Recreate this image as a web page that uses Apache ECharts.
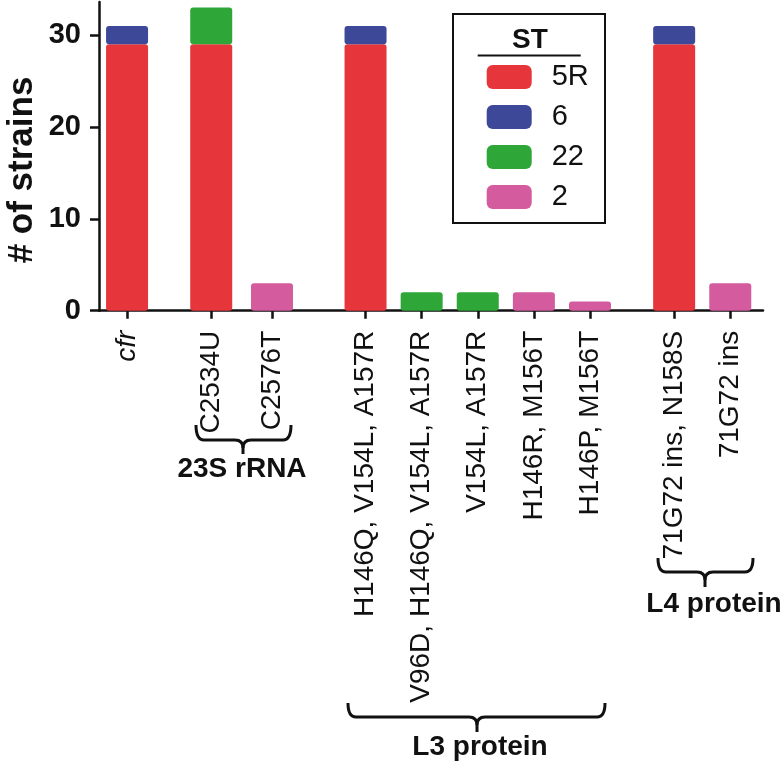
<!DOCTYPE html>
<html>
<head>
<meta charset="utf-8">
<script src="https://cdn.jsdelivr.net/npm/echarts@6/dist/echarts.min.js"></script>
<style>html,body{margin:0;padding:0;background:#fff}#c{width:780px;height:766px}</style>
</head>
<body>
<div id="c"></div>
<script>
// ---- data ----
const categories = ['cfr', 'C2534U', 'C2576T', 'H146Q, V154L, A157R', 'V96D, H146Q, V154L, A157R',
  'V154L, A157R', 'H146R, M156T', 'H146P, M156T', '71G72 ins, N158S', '71G72 ins'];
const st5R = [29, 29, 0, 29, 0, 0, 0, 0, 29, 0];
const st6  = [2, 0, 0, 2, 0, 0, 0, 0, 2, 0];
const st22 = [0, 4, 0, 0, 2, 2, 0, 0, 0, 0];
const st2  = [0, 0, 3, 0, 0, 0, 2, 1, 0, 3];
const yTicks = [0, 10, 20, 30];
const seriesNames = ['5R', '6', '22', '2'];

// ---- layout (category slot positions on a fine category axis, groups separated by gaps) ----
const slotCount = 143;
const slotOfCategory = [6, 24, 37, 57, 69, 81, 93, 105, 123, 135];

const FONT = 'Liberation Sans, Arial, Helvetica, sans-serif';
const colors = ['#E6363B', '#3D4898', '#2EA638', '#D45B9D'];

const xData = [];
for (let i = 0; i < slotCount; i++) xData.push('gap' + i);
slotOfCategory.forEach((s, k) => { xData[s] = categories[k]; });

function buildSeriesData(values) {
  const arr = new Array(slotCount).fill(null);
  values.forEach((v, k) => { arr[slotOfCategory[k]] = v === 0 ? null : v; });
  return arr;
}

const valueSets = [st5R, st6, st22, st2];
const series = seriesNames.map((n, k) => ({
  name: n,
  type: 'bar',
  stack: 'st',
  barWidth: 42,
  data: buildSeriesData(valueSets[k]),
  itemStyle: { color: colors[k], borderRadius: 3 },
  emphasis: { disabled: true }
}));

const strokeStyle = { fill: null, stroke: '#111', lineWidth: 3 };
function brace(x1, x2, xm, yTop, yH, yTip) {
  const r = 8;
  return [
    { type: 'bezierCurve', shape: { x1: x1, y1: yTop, x2: x1 + r, y2: yH, cpx1: x1, cpy1: yH }, style: strokeStyle },
    { type: 'line', shape: { x1: x1 + r, y1: yH, x2: xm - r, y2: yH }, style: strokeStyle },
    { type: 'bezierCurve', shape: { x1: xm - r, y1: yH, x2: xm, y2: yH + r, cpx1: xm, cpy1: yH }, style: strokeStyle },
    { type: 'line', shape: { x1: xm, y1: yH + r, x2: xm, y2: yTip }, style: strokeStyle },
    { type: 'bezierCurve', shape: { x1: xm + r, y1: yH, x2: xm, y2: yH + r, cpx1: xm, cpy1: yH }, style: strokeStyle },
    { type: 'line', shape: { x1: xm + r, y1: yH, x2: x2 - r, y2: yH }, style: strokeStyle },
    { type: 'bezierCurve', shape: { x1: x2, y1: yTop, x2: x2 - r, y2: yH, cpx1: x2, cpy1: yH }, style: strokeStyle }
  ];
}
function label(text, x, y, size, weight, rot) {
  return { type: 'text', x: x, y: y, rotation: rot || 0,
    style: { text: text, fill: '#111', font: weight + ' ' + size + 'px ' + FONT,
      textAlign: 'center', textVerticalAlign: 'middle' } };
}

const chart = echarts.init(document.getElementById('c'), null, { renderer: 'canvas' });
chart.setOption({
  animation: false,
  backgroundColor: '#fff',
  grid: { left: 99, right: 17, top: 2, bottom: 455.3, containLabel: false },
  xAxis: {
    type: 'category',
    data: xData,
    boundaryGap: false,
    axisLine: { lineStyle: { color: '#111', width: 2.5 } },
    axisTick: { length: 8, lineStyle: { color: '#111', width: 2.5 },
      interval: function (idx, v) { return !String(v).startsWith('gap'); } },
    axisLabel: {
      interval: 0, rotate: 90, margin: 20, color: '#111',
      fontFamily: FONT, fontSize: 28,
      formatter: function (v) {
        if (String(v).startsWith('gap')) return '';
        if (v === 'cfr') return '{i|cfr}';
        return v;
      },
      rich: { i: { fontStyle: 'italic', fontFamily: FONT, fontSize: 28, color: '#111' } }
    },
    splitLine: { show: false }
  },
  yAxis: {
    type: 'value',
    min: 0, max: 33.6, interval: 10,
    axisLine: { show: true, lineStyle: { color: '#111', width: 2.5 } },
    axisTick: { show: true, length: 9, lineStyle: { color: '#111', width: 2.5 }, customValues: yTicks },
    axisLabel: { color: '#111', fontFamily: FONT, fontSize: 29, fontWeight: 'bold', margin: 18,
      customValues: yTicks },
    splitLine: { show: false }
  },
  legend: {
    orient: 'vertical',
    left: 486.7, top: 62.5,
    padding: 0,
    itemWidth: 45, itemHeight: 24, itemGap: 11,
    icon: 'roundRect',
    selectedMode: false,
    data: seriesNames,
    textStyle: { color: '#111', fontFamily: FONT, fontSize: 29, padding: [0, 0, 0, 15] }
  },
  graphic: [
    { type: 'rect', shape: { x: 453, y: 14, width: 152, height: 209 },
      style: { fill: null, stroke: '#111', lineWidth: 2 } },
    label('ST', 530, 40, 28, 'bold'),
    { type: 'line', shape: { x1: 477.7, y1: 55.5, x2: 580.7, y2: 55.5 },
      style: { stroke: '#111', lineWidth: 2 } },
    label('# of strains', 22, 170, 35, 'bold', Math.PI / 2)
  ].concat(
    brace(196, 291, 243, 425, 440, 454),
    [label('23S rRNA', 242, 469, 28, 'bold')],
    brace(348, 605, 477, 703, 717, 732),
    [label('L3 protein', 480, 747, 28, 'bold')],
    brace(658, 753, 705, 558, 572, 587),
    [label('L4 protein', 714, 604, 28, 'bold')]
  ),
  series: series
});
</script>
</body>
</html>
